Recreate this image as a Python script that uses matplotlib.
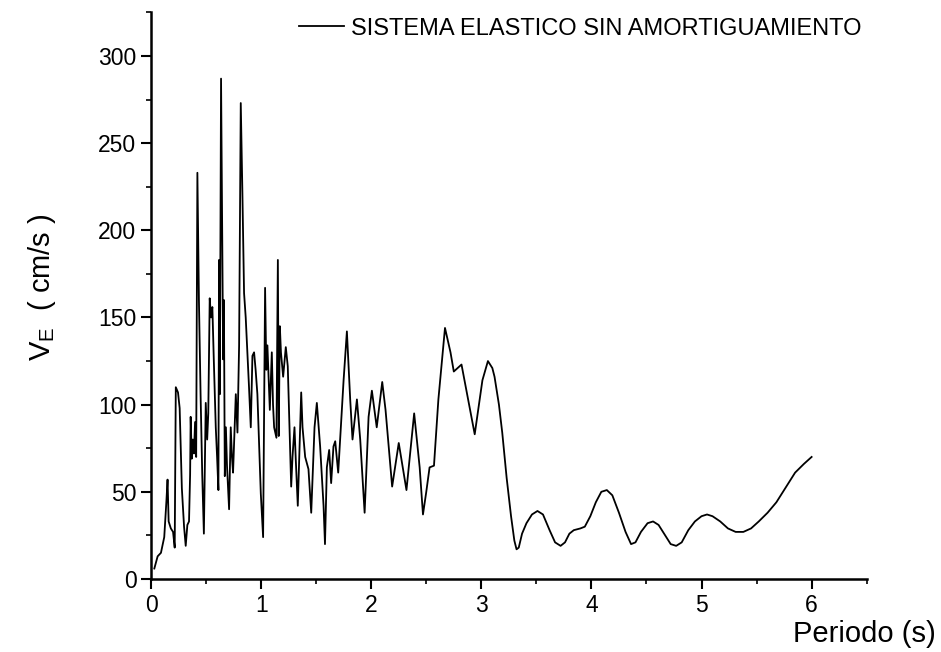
import numpy as np
import matplotlib.pyplot as plt

plt.rcParams['font.family'] = ['Liberation Sans', 'DejaVu Sans']
plt.rcParams['mathtext.fontset'] = 'custom'
plt.rcParams['mathtext.rm'] = 'Liberation Sans'
plt.rcParams['mathtext.it'] = 'Liberation Sans'

# periodo (s) y velocidad espectral (cm/s)
periodo = [0.03, 0.06, 0.09, 0.12, 0.14, 0.15, 0.16, 0.18, 0.20, 0.215,
           0.225, 0.245, 0.26, 0.28, 0.30, 0.315, 0.33, 0.345, 0.355, 0.36,
           0.37, 0.38, 0.39, 0.40, 0.41, 0.421, 0.435, 0.45, 0.465, 0.48,
           0.497, 0.51, 0.52, 0.533, 0.545, 0.557, 0.57, 0.588, 0.60, 0.612,
           0.618, 0.625, 0.636, 0.648, 0.655, 0.662, 0.67, 0.68, 0.69, 0.709,
           0.724, 0.735, 0.745, 0.77, 0.785, 0.80, 0.815, 0.83, 0.845, 0.86,
           0.875, 0.89, 0.906, 0.921, 0.936, 0.95, 0.966, 0.997, 1.018, 1.036,
           1.047, 1.057, 1.079, 1.097, 1.108, 1.118, 1.139, 1.152, 1.16, 1.17,
           1.18, 1.20, 1.224, 1.242, 1.273, 1.285, 1.303, 1.315, 1.333, 1.364,
           1.376, 1.40, 1.43, 1.455, 1.485, 1.506, 1.536, 1.567, 1.58, 1.597,
           1.618, 1.636, 1.657, 1.673, 1.70, 1.749, 1.779, 1.809, 1.83, 1.87,
           1.90, 1.94, 1.976, 2.006, 2.05, 2.10, 2.13, 2.19, 2.25, 2.32,
           2.39, 2.44, 2.47, 2.50, 2.53, 2.57, 2.61, 2.67, 2.72, 2.75,
           2.82, 2.88, 2.94, 3.01, 3.06, 3.10, 3.12, 3.16, 3.19, 3.23,
           3.27, 3.30, 3.32, 3.34, 3.37, 3.41, 3.46, 3.51, 3.56, 3.62,
           3.67, 3.72, 3.76, 3.80, 3.84, 3.90, 3.94, 3.99, 4.04, 4.09,
           4.14, 4.19, 4.25, 4.31, 4.36, 4.40, 4.45, 4.51, 4.56, 4.61,
           4.67, 4.72, 4.77, 4.82, 4.88, 4.94, 5.00, 5.05, 5.10, 5.17,
           5.24, 5.31, 5.38, 5.45, 5.52, 5.60, 5.68, 5.76, 5.85, 5.93,
           6.00]
velocidad = [6, 13, 15, 24, 45, 57, 33, 29, 27, 18,
             110, 107, 98, 52, 30, 19, 31, 33, 60, 93,
             69, 80, 72, 90, 70, 233, 160, 106, 60, 26,
             101, 80, 95, 161, 150, 156, 126, 87, 70, 51,
             183, 106, 287, 183, 126, 160, 59, 87, 65, 40,
             87, 70, 61, 106, 84, 134, 273, 221, 164, 150,
             130, 110, 87, 128, 130, 120, 106, 49, 24, 167,
             120, 134, 97, 130, 100, 87, 81, 183, 82, 145,
             130, 116, 133, 122, 53, 70, 87, 68, 42, 107,
             87, 70, 63, 38, 87, 101, 76, 42, 20, 64,
             74, 55, 76, 79, 61, 114, 142, 103, 80, 103,
             80, 38, 93, 108, 87, 113, 97, 53, 78, 51,
             95, 64, 37, 50, 64, 65, 103, 144, 130, 119,
             123, 103, 83, 114, 125, 121, 116, 100, 84, 58,
             36, 22, 17, 18, 26, 32, 37, 39, 37, 28,
             21, 19, 21, 26, 28, 29, 30, 36, 44, 50,
             51, 48, 38, 27, 20, 21, 27, 32, 33, 31,
             25, 20, 19, 21, 28, 33, 36, 37, 36, 33,
             29, 27, 27, 29, 33, 38, 44, 52, 61, 66,
             70]

x_ticks = [0, 1, 2, 3, 4, 5, 6]
y_ticks = [0, 50, 100, 150, 200, 250, 300]

fig = plt.figure(figsize=(9.41, 6.52), dpi=100)
ax = fig.add_axes([0.1605, 0.112, 0.7605, 0.869])

ax.plot(periodo, velocidad, color='black', lw=1.3,
        label='SISTEMA ELASTICO SIN AMORTIGUAMIENTO')

ax.set_xlim(0, 6.5)
ax.set_ylim(0, 325)
ax.set_xticks(x_ticks)
ax.set_yticks(y_ticks)
ax.set_xticks(np.arange(0.5, 6.6, 1.0), minor=True)
ax.set_yticks(np.arange(25, 326, 50), minor=True)

for s in ['top', 'right']:
    ax.spines[s].set_visible(False)
for s in ['left', 'bottom']:
    ax.spines[s].set_linewidth(1.8)

ax.tick_params(which='major', direction='out', length=7, width=1.5, labelsize=16.5)
ax.tick_params(which='minor', direction='out', length=3.5, width=1.2)

fig.text(0.045, 0.56, r'V$_{\mathregular{E}}$  ( cm/s )', rotation=90,
         ha='center', va='center', fontsize=21)
fig.text(0.994, 0.006, 'Periodo (s)', ha='right', va='bottom', fontsize=21)

ax.legend(loc='upper left', bbox_to_anchor=(0.318, 0.973),
          bbox_transform=fig.transFigure, frameon=False, fontsize=17,
          handlelength=1.9, handletextpad=0.3, borderpad=0, borderaxespad=0)

fig.savefig('out.png', dpi=100)
